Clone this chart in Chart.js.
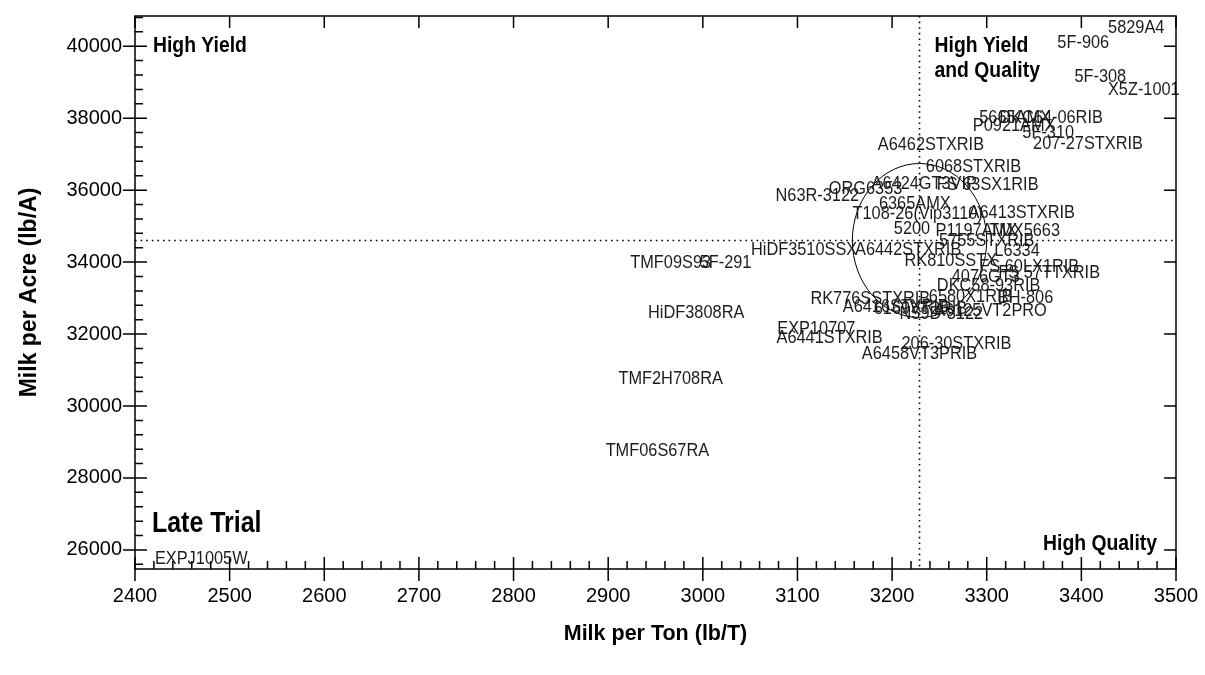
<!DOCTYPE html>
<html>
<head>
<meta charset="utf-8">
<script src="https://cdn.jsdelivr.net/npm/chart.js@4"></script>
<style>
  html, body { margin: 0; padding: 0; background: #fff; }
  #wrap { width: 1205px; height: 675px; }
</style>
</head>
<body>
<div id="wrap"><canvas id="scatter-chart"></canvas></div>
<script>
const hybrids = [
  "5829A4", "5F-906", "5F-308", "X5Z-1001", "5665AMX", "DKC64-06RIB", "P0921AMX", "5F-310",
  "207-27STXRIB", "A6462STXRIB", "6068STXRIB", "A6424GT3VIP", "FS 63SX1RIB", "ORG6353",
  "N63R-3122", "6365AMX", "A6413STXRIB", "T108-26(Vip3110)", "5200", "P1197AMX", "TMX5663",
  "5755STXRIB", "HiDF3510SSX", "A6442STXRIB", "L6334", "RK810SSTX", "FS 60LX1RIB",
  "FS 57TTXRIB", "4076GT3", "DKC58-93RIB", "RK776SSTXRIB", "6580X1RIB", "BH-806",
  "A6416STXRIB", "6169VT2RIB", "N59D-3122", "A6125VT2PRO", "EXP10707", "A6441STXRIB",
  "206-30STXRIB", "A6458VT3PRIB", "HiDF3808RA", "TMF09S93", "5F-291", "TMF2H708RA",
  "TMF06S67RA", "EXPJ1005W"
];
const milkPerTon = [
  3458, 3402, 3420, 3466, 3330, 3368, 3329, 3365,
  3407, 3241, 3286, 3234, 3301, 3172,
  3121, 3224, 3337, 3227, 3221, 3289, 3340,
  3300, 3107, 3217, 3332, 3262, 3345,
  3366, 3299, 3302, 3177, 3283, 3341,
  3204, 3230, 3252, 3304, 3120, 3134,
  3268, 3229, 2993, 2966, 3024, 2966,
  2952, 2470
];
const milkPerAcre = [
  40519, 40103, 39158, 38797, 38019, 38000, 37797, 37603,
  37297, 37269, 36658, 36186, 36158, 36047,
  35852, 35630, 35380, 35352, 34936, 34880, 34880,
  34602, 34352, 34352, 34325, 34047, 33880,
  33713, 33602, 33352, 32991, 33047, 33019,
  32769, 32713, 32574, 32658, 32158, 31908,
  31741, 31463, 32602, 33991, 33991, 30769,
  28769, 25768
];

// trial means (dotted lines) and the ellipse around them
const meanTon = 3229;
const meanAcre = 34600;
const ellipseRx = 71;     // lb/T
const ellipseRy = 2140;   // lb/A

const xTicks = [2400, 2500, 2600, 2700, 2800, 2900, 3000, 3100, 3200, 3300, 3400, 3500];
const yTicks = [26000, 28000, 30000, 32000, 34000, 36000, 38000, 40000];

const sans = "'Liberation Sans', Arial, sans-serif";
const squeeze = 0.86; // fake a narrow face

function narrowText(ctx, text, x, y) {
  ctx.save();
  ctx.translate(x, y);
  ctx.scale(squeeze, 1);
  ctx.fillText(text, 0, 0);
  ctx.restore();
}

const framePlugin = {
  id: "frame",
  afterDatasetsDraw(chart) {
    const { ctx, chartArea: a, scales: { x, y } } = chart;
    ctx.save();

    // dotted mean lines
    ctx.strokeStyle = "#000";
    ctx.lineWidth = 1.6;
    ctx.setLineDash([1.6, 4]);
    const mx = x.getPixelForValue(meanTon);
    const my = y.getPixelForValue(meanAcre);
    ctx.beginPath();
    ctx.moveTo(mx, a.top); ctx.lineTo(mx, a.bottom);
    ctx.moveTo(a.left, my); ctx.lineTo(a.right, my);
    ctx.stroke();
    ctx.setLineDash([]);

    // ellipse
    const rx = x.getPixelForValue(meanTon + ellipseRx) - mx;
    const ry = my - y.getPixelForValue(meanAcre + ellipseRy);
    ctx.lineWidth = 1;
    ctx.beginPath();
    ctx.ellipse(mx, my, rx, ry, 0, 0, Math.PI * 2);
    ctx.stroke();

    // hybrid labels, centred on each point
    ctx.fillStyle = "#1c1c1c";
    ctx.font = "19px " + sans;
    ctx.textAlign = "center";
    ctx.textBaseline = "middle";
    chart.getDatasetMeta(0).data.forEach((pt, i) => {
      narrowText(ctx, hybrids[i], pt.x, pt.y);
    });

    // frame
    ctx.lineWidth = 1.5;
    ctx.strokeRect(a.left, a.top, a.right - a.left, a.bottom - a.top);

    // ticks
    ctx.beginPath();
    xTicks.forEach(v => {
      const px = x.getPixelForValue(v);
      ctx.moveTo(px, a.bottom - 12); ctx.lineTo(px, a.bottom + 12);
      ctx.moveTo(px, a.top); ctx.lineTo(px, a.top + 12);
    });
    for (let v = 2420; v < 3500; v += 20) {
      if (v % 100 === 0) continue;
      const px = x.getPixelForValue(v);
      ctx.moveTo(px, a.bottom); ctx.lineTo(px, a.bottom - 8);
    }
    yTicks.forEach(v => {
      const py = y.getPixelForValue(v);
      ctx.moveTo(a.left - 12, py); ctx.lineTo(a.left + 12, py);
      ctx.moveTo(a.right, py); ctx.lineTo(a.right - 12, py);
    });
    for (let v = 25600; v < 40840; v += 400) {
      if (v % 2000 === 0) continue;
      const py = y.getPixelForValue(v);
      ctx.moveTo(a.left, py); ctx.lineTo(a.left + 8, py);
    }
    ctx.stroke();

    // quadrant notes
    ctx.fillStyle = "#000";
    ctx.textBaseline = "middle";
    ctx.textAlign = "left";
    ctx.font = "bold 22.5px " + sans;
    narrowText(ctx, "High Yield", a.left + 18, a.top + 30);
    narrowText(ctx, "High Yield", mx + 15, a.top + 30);
    narrowText(ctx, "and Quality", mx + 15, a.top + 55);
    ctx.textAlign = "right";
    narrowText(ctx, "High Quality", a.right - 19, a.bottom - 25);
    ctx.textAlign = "left";
    ctx.font = "bold 29px " + sans;
    narrowText(ctx, "Late Trial", a.left + 17, a.bottom - 45);

    ctx.restore();
  }
};

const ctx = document.getElementById("scatter-chart");

new Chart(ctx, {
  type: "scatter",
  data: {
    datasets: [
      {
        label: "Hybrids",
        data: milkPerTon.map((v, i) => ({ x: v, y: milkPerAcre[i] })),
        pointRadius: 0,
        pointHoverRadius: 0,
      },
    ],
  },
  options: {
    responsive: true,
    maintainAspectRatio: false,
    animation: false,
    layout: { padding: { left: 0, right: 29, top: 16, bottom: 0 } },
    plugins: {
      legend: { display: false },
      tooltip: { enabled: false },
    },
    scales: {
      x: {
        type: "linear",
        min: 2400,
        max: 3500,
        grid: { display: false, drawTicks: false },
        border: { display: false },
        afterBuildTicks: (s) => { s.ticks = xTicks.map(v => ({ value: v })); },
        ticks: {
          padding: 15,
          color: "#000",
          font: { family: sans, size: 20 },
          callback: (v) => String(v),
        },
        title: {
          display: true,
          text: "Milk per Ton (lb/T)",
          color: "#000",
          font: { family: sans, size: 21.5, weight: "bold" },
          padding: { top: 0, bottom: 28 },
        },
        afterFit: (s) => { s.height = 106; s.paddingLeft = 0; s.paddingRight = 0; },
      },
      y: {
        type: "linear",
        min: 25470,
        max: 40840,
        grid: { display: false, drawTicks: false },
        border: { display: false },
        afterBuildTicks: (s) => { s.ticks = yTicks.map(v => ({ value: v })); },
        ticks: {
          padding: 13,
          color: "#000",
          font: { family: sans, size: 20 },
          callback: (v) => String(v),
        },
        title: {
          display: true,
          text: "Milk per Acre (lb/A)",
          color: "#000",
          font: { family: sans, size: 23, weight: "bold" },
          padding: { top: 16, bottom: 0 },
        },
        afterFit: (s) => { s.width = 135; s.paddingTop = 0; s.paddingBottom = 0; },
      },
    },
  },
  plugins: [framePlugin],
});
</script>
</body>
</html>
